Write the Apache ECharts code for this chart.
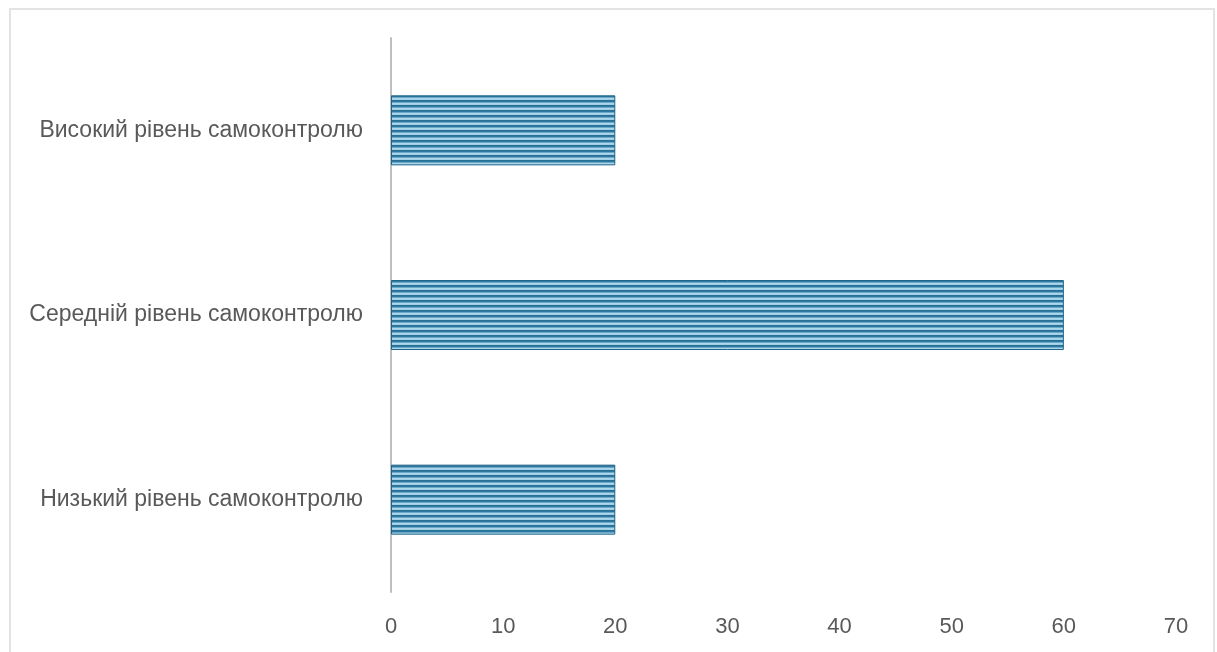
<!DOCTYPE html>
<html>
<head>
<meta charset="utf-8">
<script src="https://cdn.jsdelivr.net/npm/echarts@6/dist/echarts.min.js"></script>
<style>
  html, body { margin: 0; padding: 0; background: #fff; }
  #chart { width: 1217px; height: 652px; }
</style>
</head>
<body>
<div id="chart"></div>
<script>
const categories = [
  'Низький рівень самоконтролю',
  'Середній рівень самоконтролю',
  'Високий рівень самоконтролю'
];
const values = [20, 60, 20];
const xTicks = [0, 10, 20, 30, 40, 50, 60, 70];

// Horizontal stripe fill for the bars
function stripePattern() {
  const c = document.createElement('canvas');
  c.width = 8;
  c.height = 5;
  const ctx = c.getContext('2d');
  const rows = ['#276f95', '#2f789e', '#6aa8c9', '#acd6ec', '#a2cfe6'];
  rows.forEach((col, i) => {
    ctx.fillStyle = col;
    ctx.fillRect(0, i, 8, 1);
  });
  return c;
}

const chart = echarts.init(document.getElementById('chart'), null, { renderer: 'canvas' });
const textColor = '#595959';
const font = '"Liberation Sans", Arial, sans-serif';

chart.setOption({
  backgroundColor: '#ffffff',
  animation: false,
  graphic: [{
    type: 'rect',
    shape: { x: 10, y: 9, width: 1204, height: 700 },
    style: { fill: 'none', stroke: '#e3e3e3', lineWidth: 2 },
    silent: true
  }],
  grid: { left: 391, right: 41, top: 38, bottom: 60, containLabel: false },
  xAxis: {
    type: 'value',
    min: xTicks[0],
    max: xTicks[xTicks.length - 1],
    interval: xTicks[1] - xTicks[0],
    axisLine: { show: false },
    axisTick: { show: false },
    splitLine: { show: false },
    axisLabel: {
      color: textColor,
      fontSize: 22,
      fontFamily: font,
      margin: 24,
      formatter: v => xTicks.includes(v) ? String(v) : ''
    }
  },
  yAxis: {
    type: 'category',
    data: categories,
    axisLine: { show: true, lineStyle: { color: '#bfbfbf', width: 2 } },
    axisTick: { show: false },
    axisLabel: {
      color: textColor,
      fontSize: 23,
      fontFamily: font,
      margin: 28
    }
  },
  series: [{
    type: 'bar',
    data: values,
    barWidth: 70,
    itemStyle: {
      color: { image: stripePattern(), repeat: 'repeat' },
      borderColor: '#1f6489',
      borderWidth: 1
    }
  }]
});
</script>
</body>
</html>
